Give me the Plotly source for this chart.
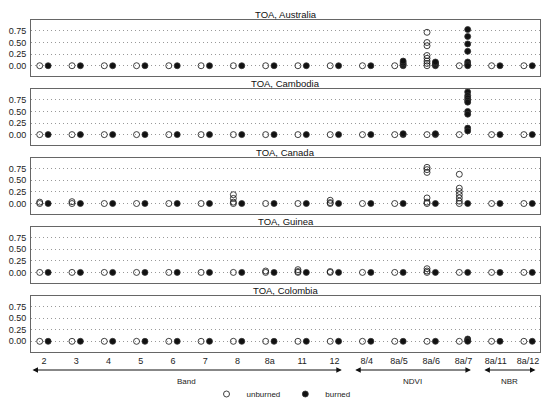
import plotly.graph_objects as go

categories = ["2", "3", "4", "5", "6", "7", "8", "8a", "11", "12",
              "8/4", "8a/5", "8a/6", "8a/7", "8a/11", "8a/12"]
y_ticks = [0.0, 0.25, 0.5, 0.75]
panel_titles = ["TOA, Australia", "TOA, Cambodia", "TOA, Canada", "TOA, Guinea", "TOA, Colombia"]

# values per category (list of point values for each category)
australia_unburned = [[0], [0], [0], [0], [0], [0], [0], [0], [0], [0], [0], [0],
                      [0.72, 0.50, 0.43, 0.22, 0.16, 0.10, 0.05, 0], [0], [0], [0]]
australia_burned = [[0], [0], [0], [0], [0], [0], [0], [0], [0], [0], [0],
                    [0, 0.03, 0.06, 0.10], [0, 0.03, 0.06, 0.08],
                    [0.78, 0.63, 0.47, 0.31, 0.08, 0.03, 0], [0], [0]]
cambodia_unburned = [[0], [0], [0], [0], [0], [0], [0], [0], [0], [0], [0], [0], [0], [0], [0], [0]]
cambodia_burned = [[0], [0], [0], [0], [0], [0], [0], [0], [0], [0], [0], [0, 0.02], [0, 0.02],
                   [0.92, 0.84, 0.79, 0.74, 0.70, 0.50, 0.44, 0.14, 0.08], [0], [0]]
canada_unburned = [[0.03, 0], [0.04, 0], [0], [0], [0], [0], [0.19, 0.11, 0.03, 0], [0], [0],
                   [0.07, 0.02, 0], [0], [0], [0.78, 0.73, 0.67, 0.12, 0.03, 0],
                   [0.63, 0.33, 0.26, 0.19, 0.12, 0.05, 0], [0], [0]]
canada_burned = [[0], [0], [0], [0], [0], [0], [0], [0], [0], [0], [0], [0], [0], [0], [0], [0]]
guinea_unburned = [[0], [0], [0], [0], [0], [0], [0], [0.03, 0], [0.06, 0.02, 0], [0.02, 0],
                   [0], [0], [0.08, 0.03, 0], [0], [0], [0]]
guinea_burned = [[0], [0], [0], [0], [0], [0], [0], [0], [0], [0], [0], [0], [0], [0], [0], [0]]
colombia_unburned = [[0], [0], [0], [0], [0], [0], [0], [0], [0], [0], [0], [0], [0], [0], [0], [0]]
colombia_burned = [[0], [0], [0], [0], [0], [0], [0], [0], [0], [0], [0], [0], [0],
                   [0.05, 0.02, 0], [0], [0]]

unburned_sets = [australia_unburned, cambodia_unburned, canada_unburned, guinea_unburned, colombia_unburned]
burned_sets = [australia_burned, cambodia_burned, canada_burned, guinea_burned, colombia_burned]

# category groups: (label, first index, last index)
group_names = ["Band", "NDVI", "NBR"]
group_first = [0, 10, 14]
group_last = [9, 13, 15]

# page body has an 8px margin on every side: keep the figure inside the window
PAD = 8
W, H = 550 - 2 * PAD, 410 - 2 * PAD
# plot area in window pixels
P_LEFT, P_RIGHT, P_TOP, P_BOT = 31, 540, 20, 352
ML, MR, MT, MB = P_LEFT - PAD, (W + PAD) - P_RIGHT, P_TOP - PAD, (H + PAD) - P_BOT
plot_h = H - MT - MB
plot_w = W - ML - MR
GAP = 12.5
PH = (P_BOT - P_TOP - 4 * GAP) / 5
tops = [P_TOP + k * (PH + GAP) for k in range(5)]
bots = [t + PH for t in tops]

def py(p):
    return (P_BOT - p) / plot_h

def px(p):
    return (p - P_LEFT) / plot_w

FONT = "Liberation Sans"
OFF = 0.13

fig = go.Figure()
layout = {}
for k in range(5):
    xa = "x" if k == 0 else f"x{k+1}"
    ya = "y" if k == 0 else f"y{k+1}"
    for vals, dx, sym, name in [(unburned_sets[k], -OFF, "circle-open", "unburned"),
                                (burned_sets[k], OFF, "circle", "burned")]:
        xs, ys = [], []
        for i, v in enumerate(vals):
            for val in v:
                xs.append(i + dx)
                ys.append(val)
        fig.add_trace(go.Scatter(
            x=xs, y=ys, mode="markers", name=name, xaxis=xa, yaxis=ya,
            showlegend=(k == 0), cliponaxis=False,
            marker=dict(symbol=sym, size=6, color="#111",
                        line=dict(color="#333", width=0.8)),
        ))
    xkey = "xaxis" if k == 0 else f"xaxis{k+1}"
    ykey = "yaxis" if k == 0 else f"yaxis{k+1}"
    layout[xkey] = dict(
        domain=[0, 1], anchor=ya, range=[-0.4, 15.37], automargin=False,
        tickvals=list(range(len(categories))), ticktext=categories,
        showticklabels=(k == 4), showgrid=False, zeroline=False,
        showline=True, mirror=True, linecolor="#666", linewidth=1,
        ticks="", tickfont=dict(size=9, color="#222", family=FONT),
    )
    layout[ykey] = dict(
        domain=[py(bots[k]), py(tops[k])], anchor=xa, range=[-0.23, 0.985],
        automargin=False,
        tickvals=y_ticks, ticktext=[f"{t:.2f}" for t in y_ticks],
        showgrid=True, gridcolor="#999", griddash="1px,3px", gridwidth=1,
        zeroline=False, showline=True, mirror=True, linecolor="#666", linewidth=1,
        ticks="", ticklabelstandoff=2,
        tickfont=dict(size=9, color="#222", family=FONT),
    )

annotations = []
for k, t in enumerate(panel_titles):
    annotations.append(dict(text=t, xref="paper", yref="paper", x=0.5, y=py(tops[k]),
                            yanchor="bottom", xanchor="center", showarrow=False,
                            yshift=-2, font=dict(size=9.5, color="#111", family=FONT)))

arrow_y = py(370)
label_y = py(375)
for name, a, b in zip(group_names, group_first, group_last):
    x0 = a - 0.4
    x1 = b + 0.23
    annotations.append(dict(
        xref="x5", yref="paper", x=x1, y=arrow_y, axref="x5", ayref="pixel",
        ax=x0, ay=0, text="", showarrow=True, arrowhead=2, arrowside="end+start",
        arrowsize=1.1, arrowwidth=1, arrowcolor="#111", standoff=0, startstandoff=0))
    annotations.append(dict(
        xref="x5", yref="paper", x=(x0 + x1) / 2, y=label_y, yanchor="top",
        text=name, showarrow=False, font=dict(size=8, color="#222", family=FONT)))

fig.update_layout(
    **layout,
    annotations=annotations,
    width=W, height=H,
    margin=dict(l=ML, r=MR, t=MT, b=MB, autoexpand=False),
    paper_bgcolor="white", plot_bgcolor="white",
    font=dict(family=FONT, size=9, color="#222"),
    legend=dict(orientation="h", x=px(281), xanchor="center", y=py(394), yanchor="middle",
                font=dict(size=8, family=FONT, color="#222"), itemwidth=30,
                bgcolor="rgba(0,0,0,0)"),
)

fig.write_html("out.html")
